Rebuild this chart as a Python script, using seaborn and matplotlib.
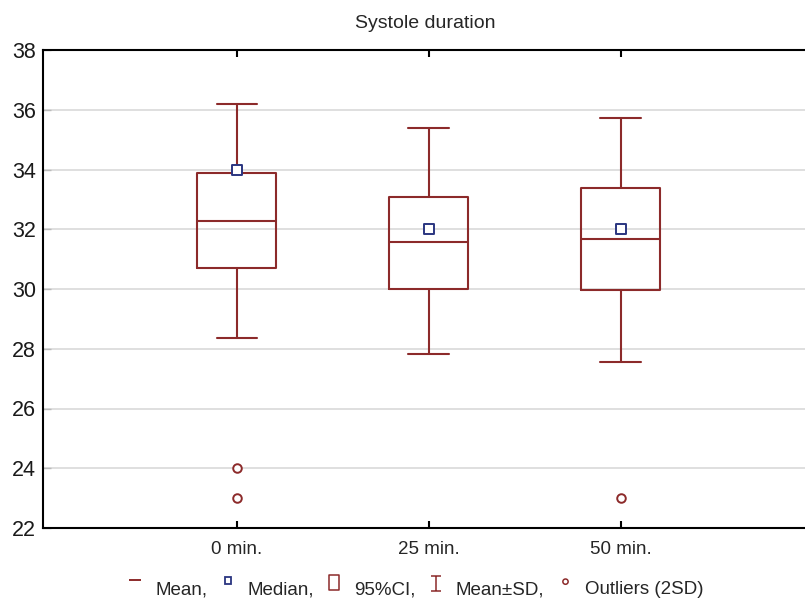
import matplotlib
matplotlib.use("Agg")
import matplotlib.pyplot as plt
from matplotlib.lines import Line2D
from matplotlib.markers import MarkerStyle
from matplotlib.path import Path
from matplotlib.transforms import Affine2D
from matplotlib import font_manager
import seaborn as sns
import pandas as pd

# ---- data ----
groups = ["0 min.", "25 min.", "50 min."]
mean_vals = [32.28, 31.57, 31.67]
ci_low = [30.70, 30.00, 29.97]
ci_high = [33.88, 33.08, 33.38]
sd_low = [28.36, 27.82, 27.56]
sd_high = [36.19, 35.39, 35.72]
median_vals = [34.0, 32.0, 32.0]
outlier_groups = ["0 min.", "0 min.", "50 min."]
outlier_vals = [24.0, 23.0, 23.0]
y_ticks = [22, 24, 26, 28, 30, 32, 34, 36, 38]
title = "Systole duration"
legend_labels = ["Mean,", "Median,", "95%CI,", "Mean\u00b1SD,", "Outliers (2SD)"]

sns.set_style("white")
names = {f.name for f in font_manager.fontManager.ttflist}
fam = "Liberation Sans" if "Liberation Sans" in names else "DejaVu Sans"
plt.rcParams["font.family"] = [fam, "DejaVu Sans"]

RED = "#8c2a2a"
BLUE = "#2a3580"

fig = plt.figure(figsize=(8.05, 6.02), dpi=100)
ax = fig.add_axes([43 / 805, (602 - 528) / 602, 1 - 43 / 805 + 0.002, (528 - 50) / 602])

pos = list(range(len(groups)))
stats = []
for i in pos:
    stats.append(dict(med=mean_vals[i], q1=ci_low[i], q3=ci_high[i],
                      whislo=sd_low[i], whishi=sd_high[i], fliers=[]))
lp = dict(color=RED, linewidth=1.5)
ax.bxp(stats, positions=pos, widths=0.41, capwidths=0.21, showfliers=False,
       boxprops=lp, whiskerprops=lp, capprops=lp, medianprops=lp,
       manage_ticks=False)

pos_map = {g: i for i, g in enumerate(groups)}
df_med = pd.DataFrame({"x": pos, "y": median_vals})
sns.scatterplot(data=df_med, x="x", y="y", ax=ax, marker="s", s=45,
                facecolor="white", edgecolor=BLUE, linewidth=1.4, zorder=5)
df_out = pd.DataFrame({"x": [pos_map[g] for g in outlier_groups], "y": outlier_vals})
sns.scatterplot(data=df_out, x="x", y="y", ax=ax, marker="o", s=38,
                facecolor="white", edgecolor=RED, linewidth=1.4, zorder=5)

ax.set_xlim(-1.01, 2.97)
ax.set_ylim(22, 38)
ax.set_yticks(y_ticks)
ax.set_yticklabels([str(t) for t in y_ticks], fontsize=15.5)
ax.set_xticks(pos)
ax.set_xticklabels(groups, fontsize=13.5)
ax.set_xlabel("")
ax.set_ylabel("")
ax.yaxis.grid(True, color="#d9d9d9", linewidth=1.2)
ax.set_axisbelow(True)
for s in ["left", "top", "bottom"]:
    ax.spines[s].set_visible(True)
    ax.spines[s].set_color("black")
    ax.spines[s].set_linewidth(1.5)
ax.spines["right"].set_visible(False)
ax.tick_params(axis="x", direction="in", length=5, width=1.5, color="black",
               top=True, bottom=True, pad=9)
ax.tick_params(axis="y", direction="in", length=6, width=1, color="#bbbbbb",
               left=True, pad=5, labelcolor="#1a1a1a")
ax.set_title(title, fontsize=14, pad=16)

ibeam = Path([(-0.3, 0.5), (0.3, 0.5), (0, 0.5), (0, -0.5), (-0.3, -0.5), (0.3, -0.5)],
             [Path.MOVETO, Path.LINETO, Path.MOVETO, Path.LINETO, Path.MOVETO, Path.LINETO])
rect = Path([(-0.3, -0.5), (0.3, -0.5), (0.3, 0.5), (-0.3, 0.5), (-0.3, -0.5)],
            [Path.MOVETO, Path.LINETO, Path.LINETO, Path.LINETO, Path.CLOSEPOLY])
up = lambda d: Affine2D().translate(0, d)
handles = [
    Line2D([], [], linestyle="none", marker=MarkerStyle("_", transform=up(0.7)),
           markersize=8, color=RED, markeredgewidth=1.4),
    Line2D([], [], linestyle="none", marker=MarkerStyle("s", transform=up(1.2)),
           markersize=4.5, markerfacecolor="white", markeredgecolor=BLUE, markeredgewidth=1.3),
    Line2D([], [], linestyle="none", marker=MarkerStyle(rect, transform=up(0.35)),
           markersize=11, markerfacecolor="white", markeredgecolor=RED, markeredgewidth=1.1),
    Line2D([], [], linestyle="none", marker=MarkerStyle(ibeam, transform=up(0.3)),
           markersize=11, markerfacecolor="none", markeredgecolor=RED, markeredgewidth=1.1),
    Line2D([], [], linestyle="none", marker=MarkerStyle("o", transform=up(1.3)),
           markersize=3.8, markerfacecolor="white", markeredgecolor=RED, markeredgewidth=1.1),
]
fig.legend(handles, legend_labels, loc="lower center", bbox_to_anchor=(0.515, -0.022),
           ncol=5, frameon=False, fontsize=13.5, handlelength=1.0,
           handletextpad=0.55, columnspacing=0.6)

fig.savefig("out.png", dpi=100)
